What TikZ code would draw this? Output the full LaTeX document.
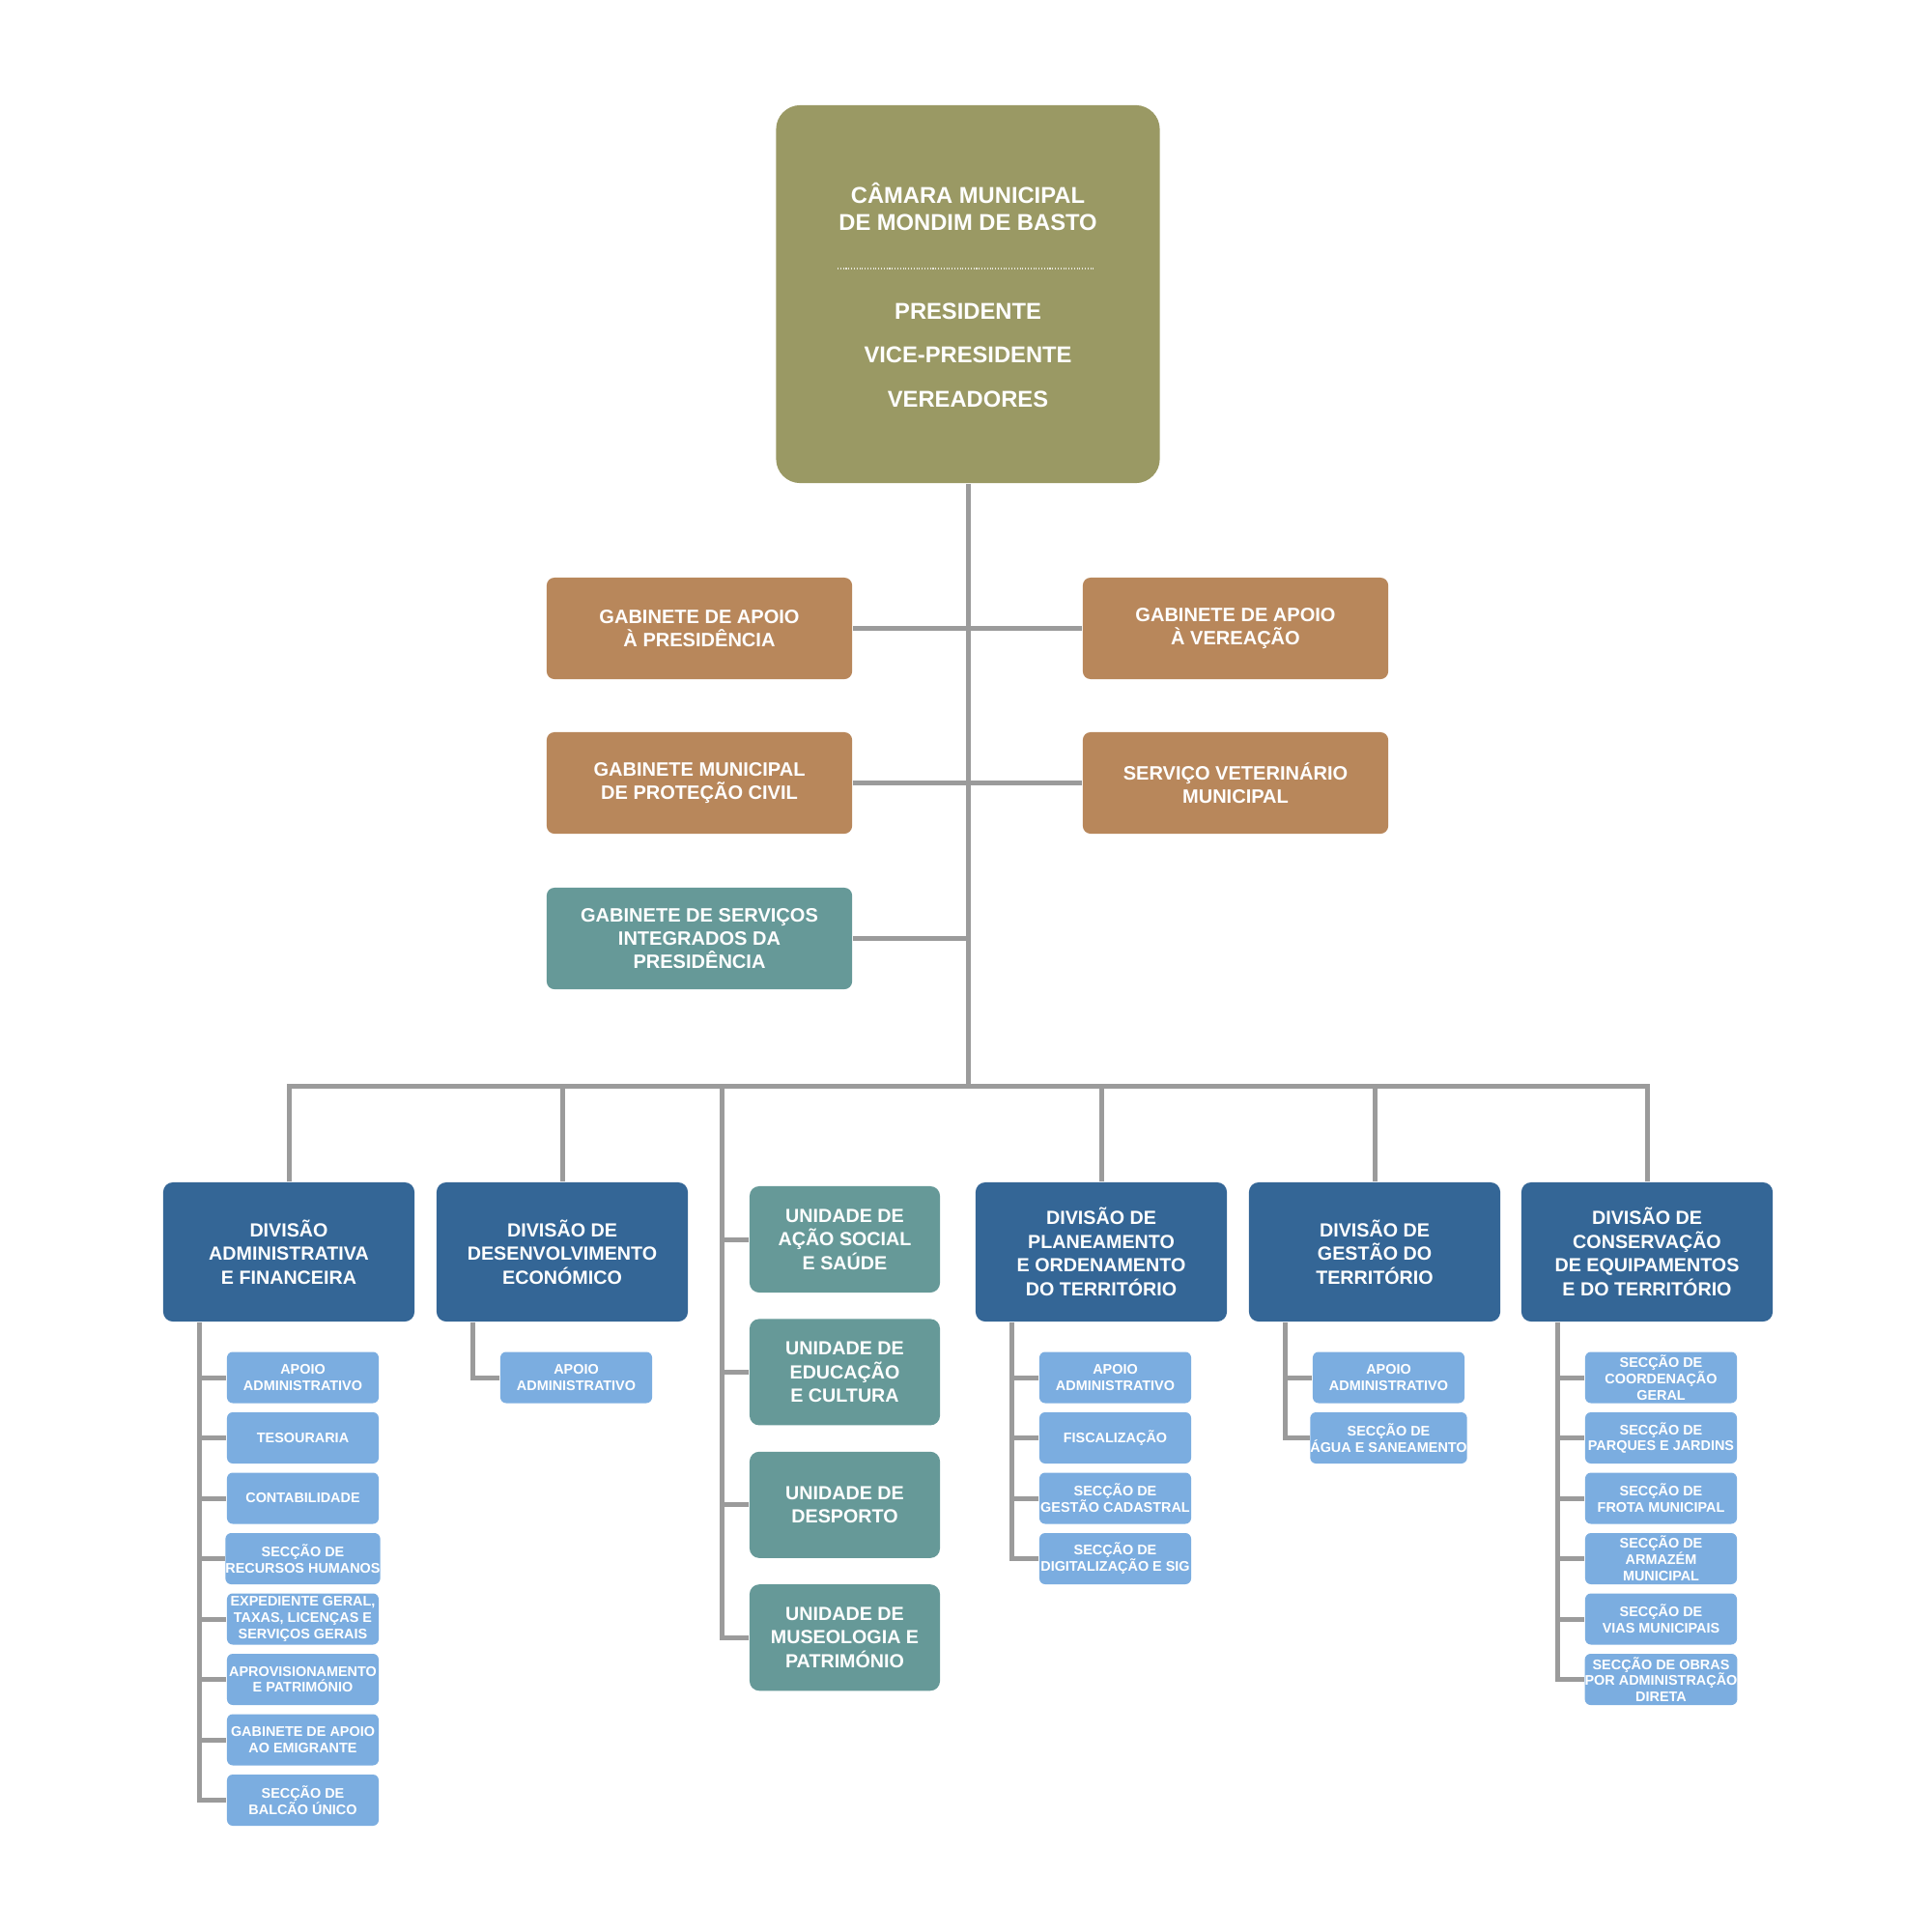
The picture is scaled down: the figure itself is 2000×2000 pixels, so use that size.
\documentclass[tikz,border=0pt]{standalone}
\usepackage{fontspec}
\setmainfont{Liberation Sans}
\usepackage{xcolor}
\definecolor{camaraolive}{RGB}{154,153,100}
\definecolor{gabinetetan}{RGB}{184,135,91}
\definecolor{unidadeteal}{RGB}{102,153,152}
\definecolor{divisaoblue}{RGB}{52,102,150}
\definecolor{seccaoblue}{RGB}{123,173,224}
\definecolor{linegray}{RGB}{155,155,155}
\usepackage{tikz}
\usetikzlibrary{calc}
\newcommand{\widthgabinete}{3.16cm}
\newcommand{\widthdivisao}{2.6cm}
\newcommand{\widthunidade}{1.97cm}
\newcommand{\widthseccao}{1.57cm}
\tikzset{
    common/.style={rectangle, align=center, text=white, inner sep=0pt},
    camara/.style={common, fill=camaraolive, minimum width=3.97cm, minimum height=3.91cm, rounded corners=0.25cm},
    camaratext/.style={common, font=\bfseries\fontsize{6.75}{8}\selectfont},
    gabinete/.style={common, fill=gabinetetan, minimum width=\widthgabinete, minimum height=1.05cm, rounded corners=0.08cm, font=\bfseries\fontsize{5.7}{6.75}\selectfont},
    servico/.style={gabinete, fill=unidadeteal},
    divisao/.style={common, fill=divisaoblue, minimum width=\widthdivisao, minimum height=1.44cm, rounded corners=0.1cm, font=\bfseries\fontsize{5.6}{7}\selectfont},
    unidade/.style={divisao, fill=unidadeteal, minimum width=\widthunidade, minimum height=1.1cm},
    seccao/.style={common, fill=seccaoblue, minimum width=\widthseccao, minimum height=0.53cm, rounded corners=0.06cm, font=\bfseries\fontsize{4.1}{4.8}\selectfont},
    link/.style={draw=linegray, line width=0.05cm}
}
\begin{document}
\begin{tikzpicture}[x=0.01cm, y=-0.01cm]
      \useasboundingbox (0,0) rectangle (2000,2000);

      % top
      \node[camara] (camara) at (1002,304.5) {};
      \node[camaratext] (camara-title) at (1002,214) {CÂMARA MUNICIPAL\\DE MONDIM DE BASTO};
      \node[camaratext, font=\bfseries\fontsize{6.75}{12.9}\selectfont] (camara-roles) at (1002,367.5) {PRESIDENTE\\VICE-PRESIDENTE\\VEREADORES};
      \coordinate (sep-left) at (867,278);
      \coordinate (sep-right) at (1132,278);
      \draw[white!75!camaraolive, line width=0.3pt, dash pattern=on 0.3pt off 0.5pt] (sep-left) -- (sep-right);

      % gabinetes
      \node[gabinete] (gab-pres) at (724,650.5) {GABINETE DE APOIO\\À PRESIDÊNCIA};
      \node[gabinete] (gab-ver) at (1279,650.5) {GABINETE DE APOIO\\À VEREAÇÃO};
      \node[gabinete] (gab-civ) at (724,810.5) {GABINETE MUNICIPAL\\DE PROTEÇÃO CIVIL};
      \node[gabinete] (gab-vet) at (1279,810.5) {SERVIÇO VETERINÁRIO\\MUNICIPAL};
      \node[servico] (gab-sip) at (724,971.5) {GABINETE DE SERVIÇOS\\INTEGRADOS DA\\PRESIDÊNCIA};

      \coordinate (bus) at (1002,1124);
      \draw[link] (camara.south) -- (bus);
      \draw[link] (gab-pres.east) -- (gab-ver.west);
      \draw[link] (gab-civ.east) -- (gab-vet.west);
      \draw[link] (gab-sip.east) -- (gab-sip.east -| camara.south);

      % divisoes
      \node[divisao] (div-adm) at (299,1296) {DIVISÃO\\ADMINISTRATIVA\\E FINANCEIRA};
      \node[divisao] (div-dese) at (582,1296) {DIVISÃO DE\\DESENVOLVIMENTO\\ECONÓMICO};
      \node[divisao] (div-plan) at (1140,1296) {DIVISÃO DE\\PLANEAMENTO\\E ORDENAMENTO\\DO TERRITÓRIO};
      \node[divisao] (div-gest) at (1423,1296) {DIVISÃO DE\\GESTÃO DO\\TERRITÓRIO};
      \node[divisao] (div-cons) at (1705,1296) {DIVISÃO DE\\CONSERVAÇÃO\\DE EQUIPAMENTOS\\E DO TERRITÓRIO};

      \draw[link] (div-adm.north) |- (bus) -| (div-cons.north);
      \foreach \d in {dese,plan,gest}
          \draw[link] (div-\d.north |- bus) -- (div-\d.north);

      % unidades
      \foreach \txt [count=\i] in {{UNIDADE DE\\AÇÃO SOCIAL\\E SAÚDE}, {UNIDADE DE\\EDUCAÇÃO\\E CULTURA}, {UNIDADE DE\\DESPORTO}, {UNIDADE DE\\MUSEOLOGIA E\\PATRIMÓNIO}}
          \node[unidade] (uni-\i) at (874.5,{1283+137.4*(\i-1)}) {\txt};
      \coordinate (uni-line) at (747,1124);
      \draw[link] (uni-line) |- (uni-4.west);
      \foreach \i in {1,2,3}
          \draw[link] (uni-line |- uni-\i.west) -- (uni-\i.west);

      % seccoes
      \foreach \txt [count=\i] in {{APOIO\\ADMINISTRATIVO}, TESOURARIA, CONTABILIDADE, {SECÇÃO DE\\RECURSOS HUMANOS}, {EXPEDIENTE GERAL,\\TAXAS, LICENÇAS E\\SERVIÇOS GERAIS}, {APROVISIONAMENTO\\E PATRIMÓNIO}, {GABINETE DE APOIO\\AO EMIGRANTE}, {SECÇÃO DE\\BALCÃO ÚNICO}}
          \node[seccao] (adm-\i) at (313.5,{1426+62.5*(\i-1)}) {\txt};
      \foreach \txt [count=\i] in {{APOIO\\ADMINISTRATIVO}}
          \node[seccao] (dese-\i) at (596.5,{1426+62.5*(\i-1)}) {\txt};
      \foreach \txt [count=\i] in {{APOIO\\ADMINISTRATIVO}, FISCALIZAÇÃO, {SECÇÃO DE\\GESTÃO CADASTRAL}, {SECÇÃO DE\\DIGITALIZAÇÃO E SIG}}
          \node[seccao] (plan-\i) at (1154.5,{1426+62.5*(\i-1)}) {\txt};
      \foreach \txt [count=\i] in {{APOIO\\ADMINISTRATIVO}, {SECÇÃO DE\\ÁGUA E SANEAMENTO}}
          \node[seccao] (gest-\i) at (1437.5,{1426+62.5*(\i-1)}) {\txt};
      \foreach \txt [count=\i] in {{SECÇÃO DE\\COORDENAÇÃO\\GERAL}, {SECÇÃO DE\\PARQUES E JARDINS}, {SECÇÃO DE\\FROTA MUNICIPAL}, {SECÇÃO DE\\ARMAZÉM\\MUNICIPAL}, {SECÇÃO DE\\VIAS MUNICIPAIS}, {SECÇÃO DE OBRAS\\POR ADMINISTRAÇÃO\\DIRETA}}
          \node[seccao] (cons-\i) at (1719.5,{1426+62.5*(\i-1)}) {\txt};

      \foreach \d/\n in {adm/8, dese/1, plan/4, gest/2, cons/6} {
          \coordinate (\d-line) at ($(div-\d.south west)+(38,0)$);
          \draw[link] (\d-line) |- (\d-\n.west);
          \foreach \i in {1,...,\n}
              \draw[link] (\d-line |- \d-\i.west) -- (\d-\i.west);
      }
\end{tikzpicture}
\end{document}
